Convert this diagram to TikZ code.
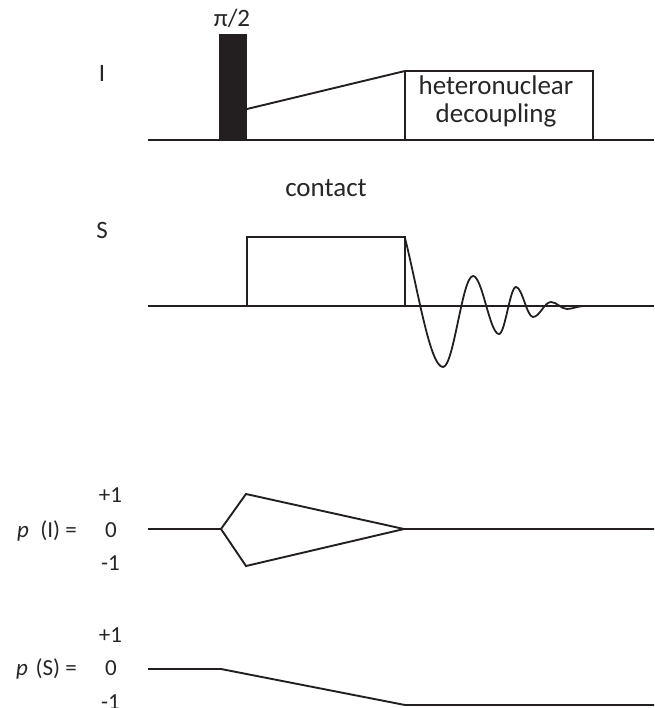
\documentclass[tikz,border=0pt]{standalone}
\usepackage{fontspec}
\setmainfont{Carlito}
\definecolor{ink}{HTML}{231F20}
\definecolor{txt}{HTML}{262626}
\begin{document}
\begin{tikzpicture}[x=1pt,y=-1pt,
  line/.style={draw=ink,line width=2.6pt},
  thin/.style={draw=ink,line width=1.9pt,line join=miter},
  big/.style={text=txt,font=\fontsize{27}{28}\selectfont,inner sep=0pt,anchor=base},
  mid/.style={text=txt,font=\fontsize{25}{28}\selectfont,inner sep=0pt,anchor=base},
  small/.style={text=txt,font=\fontsize{23}{26}\selectfont,inner sep=0pt,anchor=base}]
\useasboundingbox (0,0) rectangle (654,708);
% channel I
\node[mid] (labI) at (102,82) {I};
\draw[line] (148,140) coordinate (i0) -- (654,140) coordinate (i1);
\fill[ink] (219,34) rectangle (247,140);
\node[mid] (pi2) at (232,27) {π/2};
\draw[thin] (247,109) coordinate (r0) -- (405,71) coordinate (r1);
\draw[thin] (405,140) rectangle (593,71);
\node[big] (dec1) at (496,95) {heteronuclear};
\node[big] (dec2) at (496,123) {decoupling};
% channel S
\node[big] (cont) at (326,197) {contact};
\node[mid] (labS) at (102,239) {S};
\draw[line] (148,306) coordinate (s0) -- (654,306) coordinate (s1);
\draw[thin] (247,306) -- (247,237) -- (405,237) -- (405,306);
\draw[draw=ink,line width=1.8pt] (405,238)
  .. controls (418,290) and (430,367) .. (443,367)
  .. controls (453.8,367) and (462.2,276) .. (473,276)
  .. controls (482.4,276) and (489.6,334) .. (499,334)
  .. controls (505.1,334) and (509.9,287) .. (516,287)
  .. controls (522.1,287) and (526.9,317) .. (533,317)
  .. controls (539.5,317) and (544.5,302) .. (551,302)
  .. controls (556.8,302) and (561.2,309) .. (567,309)
  .. controls (572.8,309) and (577,306) .. (585,306);
% p(I)
\node[small,anchor=base east] (pI) at (77,537) {\textit{p}\,\,\,(I) =};
\node[small] (pIa) at (110.5,502) {+1};
\node[small] (pIb) at (111,537) {0};
\node[small] (pIc) at (110.5,570) {-1};
\draw[thin] (148,529) coordinate (a0) -- (221,529) coordinate (a1) -- (246,494) coordinate (a2) -- (404,529) coordinate (a3) -- (654,529) coordinate (a4);
\draw[thin] (a1) -- (246,566) coordinate (a5) -- (a3);
% p(S)
\node[small,anchor=base east] (pS) at (77,675) {\textit{p}\,\,(S) =};
\node[small] (pSa) at (110.5,642) {+1};
\node[small] (pSb) at (111,675) {0};
\node[small] (pSc) at (110.5,709) {-1};
\draw[thin] (148,669) coordinate (b0) -- (221,669) coordinate (b1) -- (405,705) coordinate (b2) -- (654,705) coordinate (b3);
\end{tikzpicture}
\end{document}
